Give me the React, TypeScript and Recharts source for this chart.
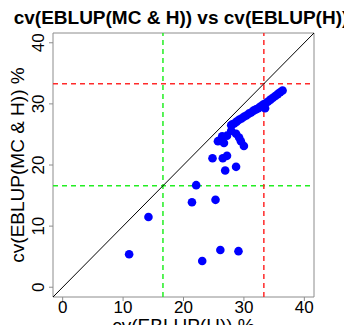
import {
  ScatterChart,
  Scatter,
  XAxis,
  YAxis,
  ReferenceLine,
  ReferenceArea,
} from 'recharts';

// cv(EBLUP(H)) %  -> x,  cv(EBLUP(MC & H)) % -> y
const cvH = [
  11.0, 14.2, 21.4, 22.1, 25.3, 23.1, 26.1, 29.1, 24.8, 26.5, 27.2, 26.9, 28.7,
  25.7, 26.7, 26.4, 27.9, 27.9, 28.7, 29.5, 30.0, 29.2, 27.2,
  28.0, 28.4, 28.8, 29.2, 29.6, 30.0, 30.4, 30.8, 31.2, 31.6, 32.0, 32.4, 32.8,
  33.2, 33.5, 33.6, 34.0, 34.4, 34.8, 35.2, 35.6, 36.0, 36.4,
];
const cvMcH = [
  5.4, 11.5, 13.9, 16.7, 14.3, 4.3, 6.1, 5.9, 21.1, 21.1, 21.5, 19.1, 19.7,
  23.9, 23.6, 24.7, 26.5, 25.6, 25.1, 23.9, 23.1, 24.5, 24.8,
  26.6, 26.8, 27.1, 27.4, 27.6, 27.9, 28.1, 28.4, 28.6, 28.9, 29.1, 29.3, 29.6,
  29.9, 29.3, 30.1, 30.4, 30.7, 31.0, 31.3, 31.6, 31.9, 32.2,
];
const ticks = [0, 10, 20, 30, 40];
const lowCut = 16.6;
const highCut = 33.3;
const domain: [number, number] = [-1.6, 41.6];

const points = cvH.map((x, i) => ({ x, y: cvMcH[i] }));

const FONT = '"Liberation Sans", Arial, sans-serif';

const YTick = (props: any) => {
  const x = props.x - 3;
  return (
    <text
      x={x}
      y={props.y}
      transform={`rotate(-90, ${x}, ${props.y})`}
      textAnchor="middle"
      fontSize={17}
      fill="#000"
    >
      {props.payload.value}
    </text>
  );
};

const Dot = (props: any) => <circle cx={props.cx} cy={props.cy} r={4.3} fill="#0000ff" />;

export default function App() {
  return (
    <div style={{ position: 'relative', width: 352, height: 333, margin: -8, fontFamily: FONT, background: '#fff' }}>
      <div
        style={{
          position: 'absolute',
          left: 0,
          top: 8,
          width: 362,
          textAlign: 'center',
          fontSize: 19,
          lineHeight: '19px',
          fontWeight: 'bold',
          color: '#000',
          whiteSpace: 'nowrap',
        }}
      >
        cv(EBLUP(MC &amp; H)) vs cv(EBLUP(H))
      </div>
      <ScatterChart width={352} height={333} margin={{ top: 33, right: 38, bottom: 0, left: 0 }}>
        <XAxis
          type="number"
          dataKey="x"
          domain={domain}
          ticks={ticks}
          allowDataOverflow
          axisLine={false}
          tickLine={{ stroke: '#8c8c8c' }}
          tickSize={4}
          tickMargin={0}
          tick={{ fontSize: 17, fill: '#000' }}
          height={36}
          label={{
            content: (p: any) => (
              <text
                x={p.viewBox.x + p.viewBox.width / 2}
                y={p.viewBox.y + 35}
                textAnchor="middle"
                fontSize={19}
                fill="#000"
              >
                cv(EBLUP(H)) %
              </text>
            ),
          }}
        />
        <YAxis
          type="number"
          dataKey="y"
          domain={domain}
          ticks={ticks}
          allowDataOverflow
          axisLine={false}
          tickLine={{ stroke: '#8c8c8c' }}
          tickSize={4}
          tickMargin={2}
          tick={<YTick />}
          width={53}
          label={{
            content: (p: any) => {
              const cx = 24;
              const cy = p.viewBox.y + p.viewBox.height / 2;
              return (
                <text
                  x={cx}
                  y={cy}
                  transform={`rotate(-90, ${cx}, ${cy})`}
                  textAnchor="middle"
                  fontSize={19}
                  fill="#000"
                >
                  cv(EBLUP(MC &amp; H)) %
                </text>
              );
            },
          }}
        />
        <ReferenceArea x1={domain[0]} x2={domain[1]} y1={domain[0]} y2={domain[1]} fill="none" stroke="#8c8c8c" strokeWidth={1} />
        <ReferenceLine x={lowCut} stroke="#22ee22" strokeWidth={1.5} strokeDasharray="5 4" />
        <ReferenceLine y={lowCut} stroke="#22ee22" strokeWidth={1.5} strokeDasharray="5 4" />
        <ReferenceLine x={highCut} stroke="#ff2a2a" strokeWidth={1.5} strokeDasharray="5 4" />
        <ReferenceLine y={highCut} stroke="#ff2a2a" strokeWidth={1.5} strokeDasharray="5 4" />
        <ReferenceLine
          segment={[
            { x: domain[0], y: domain[0] },
            { x: domain[1], y: domain[1] },
          ]}
          stroke="#000"
          strokeWidth={1}
        />
        <Scatter data={points} shape={<Dot />} isAnimationActive={false} />
      </ScatterChart>
    </div>
  );
}
